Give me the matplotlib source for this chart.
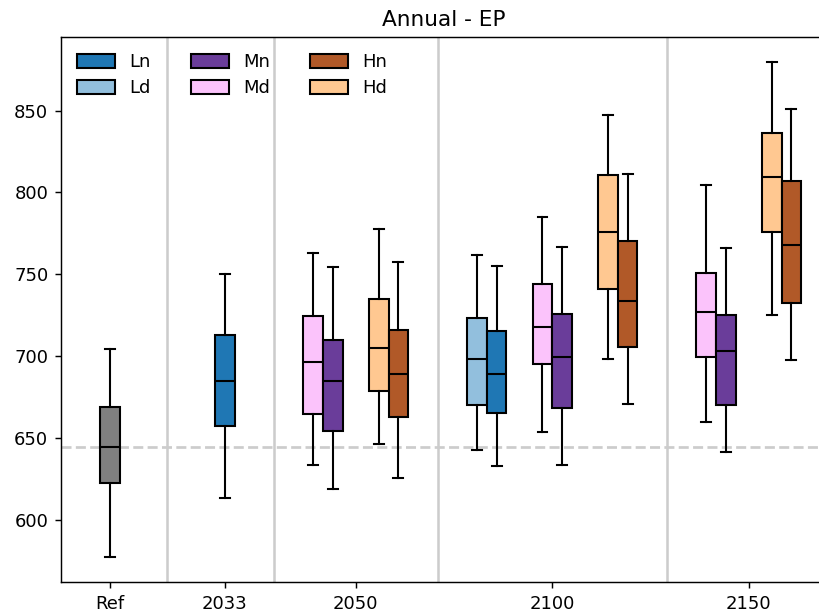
import matplotlib
matplotlib.use("Agg")
import matplotlib.pyplot as plt
from matplotlib.patches import Patch
import numpy as np

# Each entry: [whisker low, Q1, median, Q3, whisker high]
ref = [577.1, 622.2, 644.6, 669.1, 704.3]

years = ['2033', '2050', '2100', '2150']
year_pos = [0, 2, 5, 8]
ref_pos = -1.75

Ln = {'2033': [613.3, 657.1, 685.0, 712.9, 750.0],
      '2100': [632.6, 665.2, 688.9, 715.3, 755.3]}
Ld = {'2100': [642.4, 669.9, 698.2, 723.1, 761.6]}
Mn = {'2050': [619.0, 654.2, 684.8, 709.8, 754.5],
      '2100': [633.4, 668.3, 699.6, 725.6, 766.9],
      '2150': [641.4, 670.1, 702.9, 725.1, 765.9]}
Md = {'2050': [633.3, 664.8, 696.2, 724.5, 762.8],
      '2100': [653.8, 695.0, 717.6, 744.1, 785.2],
      '2150': [659.9, 699.4, 727.1, 751.0, 804.8]}
Hn = {'2050': [625.7, 662.6, 689.1, 716.0, 757.3],
      '2100': [670.7, 705.6, 733.9, 770.5, 811.3],
      '2150': [697.8, 732.3, 767.9, 807.2, 851.2]}
Hd = {'2050': [646.1, 678.7, 705.1, 735.1, 777.5],
      '2100': [698.4, 741.2, 775.9, 810.5, 847.2],
      '2150': [725.3, 775.9, 809.7, 836.6, 879.9]}

colors = {'Ln': '#1f77b4', 'Ld': '#92bfdd', 'Mn': '#6a3d9a', 'Md': '#fbc3fb',
          'Hn': '#b15928', 'Hd': '#ffc891', 'Ref': '#808080'}

levels = [('L', Ln, Ld), ('M', Mn, Md), ('H', Hn, Hd)]

DPI = 130
fig = plt.figure(figsize=(819/DPI, 611/DPI), dpi=DPI)
ax = fig.add_axes([61/819, 29/611, 766.4/819, 545/611])

width = 0.3
lw = 1.15


def stat(v):
    return dict(whislo=v[0], q1=v[1], med=v[2], q3=v[3], whishi=v[4], fliers=[])


def draw(v, pos, color):
    ax.bxp([stat(v)], positions=[pos], widths=width, patch_artist=True,
           showfliers=False,
           boxprops=dict(facecolor=color, edgecolor='black', linewidth=lw),
           medianprops=dict(color='black', linewidth=lw),
           whiskerprops=dict(color='black', linewidth=lw),
           capprops=dict(color='black', linewidth=lw), manage_ticks=False)


draw(ref, ref_pos, colors['Ref'])
for y, yp in zip(years, year_pos):
    present = [(name, n, d) for name, n, d in levels if y in n or y in d]
    k = len(present)
    offs = np.arange(k) - (k - 1) / 2
    for off, (name, n, d) in zip(offs, present):
        c = yp + off
        if y in n and y in d:
            draw(d[y], c - width / 2, colors[name + 'd'])
            draw(n[y], c + width / 2, colors[name + 'n'])
        elif y in n:
            draw(n[y], c, colors[name + 'n'])
        else:
            draw(d[y], c, colors[name + 'd'])

# separators between year blocks
block_first_last = []
for y, yp in zip(years, year_pos):
    present = [name for name, n, d in levels if y in n or y in d]
    k = len(present)
    block_first_last.append((yp - (k - 1) / 2, yp + (k - 1) / 2))
seps = [(ref_pos + block_first_last[0][0]) / 2]
for a, b in zip(block_first_last[:-1], block_first_last[1:]):
    seps.append((a[1] + b[0]) / 2)
for s in seps:
    ax.axvline(s, color='#cccccc', linewidth=1.4, zorder=0)

ax.axhline(ref[2], color='#cccccc', linestyle='--', linewidth=1.5, zorder=0)

ax.set_xlim(-2.5, 9.2)
ax.set_ylim(561.9, 895.0)
ax.set_yticks([600, 650, 700, 750, 800, 850])
ax.set_xticks([ref_pos] + year_pos)
ax.set_xticklabels(['Ref'] + years)
ax.set_title('Annual - EP')

handles = [Patch(facecolor=colors[s], edgecolor='black', linewidth=lw)
           for s in ['Ln', 'Ld', 'Mn', 'Md', 'Hn', 'Hd']]
ax.legend(handles, ['Ln', 'Ld', 'Mn', 'Md', 'Hn', 'Hd'], ncol=3,
          loc='upper left', frameon=False, handlelength=2.1, handleheight=0.8,
          handletextpad=0.8, columnspacing=2.2, labelspacing=0.45)

fig.savefig('out.png', dpi=DPI)
